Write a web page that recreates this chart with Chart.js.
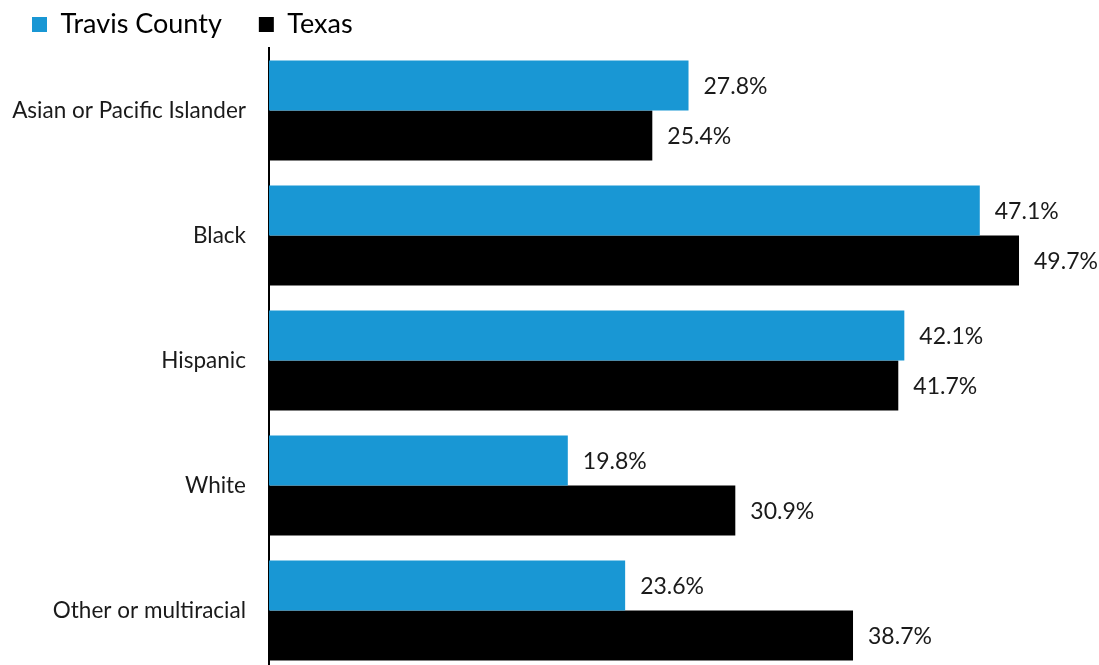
<!DOCTYPE html>
<html>
<head>
<meta charset="utf-8">
<script src="https://cdn.jsdelivr.net/npm/chart.js@4/dist/chart.umd.min.js"></script>
<style>
  html, body { margin: 0; padding: 0; background: #fff; overflow: hidden; width: 1099px; height: 665px; }
  #c { position: absolute; left: -5px; top: -26px; width: 1104px; height: 699px; }
</style>
</head>
<body>
<canvas id="c" width="1104" height="699"></canvas>
<script>
const categories = ['Asian or Pacific Islander', 'Black', 'Hispanic', 'White', 'Other or multiracial'];
const travisValues = [27.8, 47.1, 42.1, 19.8, 23.6];
const texasValues = [25.4, 49.7, 41.7, 30.9, 38.7];
const seriesNames = ['Travis County', 'Texas'];

const FONT = 'Lato, "Open Sans", sans-serif';

const valueLabels = {
  id: 'valueLabels',
  afterDatasetsDraw(chart) {
    const ctx = chart.ctx;
    ctx.save();
    ctx.font = '23px ' + FONT;
    ctx.fillStyle = '#1a1a1a';
    ctx.textAlign = 'left';
    ctx.textBaseline = 'middle';
    chart.data.datasets.forEach((ds, di) => {
      const meta = chart.getDatasetMeta(di);
      meta.data.forEach((el, i) => {
        ctx.fillText(ds.data[i].toFixed(1) + '%', el.x + 15, el.y + 1);
      });
    });
    ctx.restore();
  }
};

new Chart(document.getElementById('c'), {
  type: 'bar',
  data: {
    labels: categories,
    datasets: [
      { label: seriesNames[0], data: travisValues, backgroundColor: '#1997d4', categoryPercentage: 0.8, barPercentage: 1.0 },
      { label: seriesNames[1], data: texasValues, backgroundColor: '#000000', categoryPercentage: 0.8, barPercentage: 1.0 }
    ]
  },
  options: {
    indexAxis: 'y',
    responsive: false,
    maintainAspectRatio: false,
    devicePixelRatio: 1,
    animation: false,
    layout: { padding: 0 },
    plugins: {
      legend: {
        position: 'top',
        align: 'start',
        labels: {
          boxWidth: 15,
          boxHeight: 15,
          padding: 37,
          color: '#000',
          font: { family: FONT, size: 27 }
        }
      },
      tooltip: { enabled: false }
    },
    scales: {
      x: { display: false, min: 0, max: 55 },
      y: {
        afterFit(scale) { scale.width = 274; scale.paddingTop = 0; scale.paddingBottom = 0; },
        grid: { display: false, drawTicks: false },
        border: { display: true, color: '#000', width: 2 },
        ticks: { padding: 23, color: '#1a1a1a', font: { family: FONT, size: 22.5 } }
      }
    }
  },
  plugins: [valueLabels]
});
</script>
</body>
</html>
